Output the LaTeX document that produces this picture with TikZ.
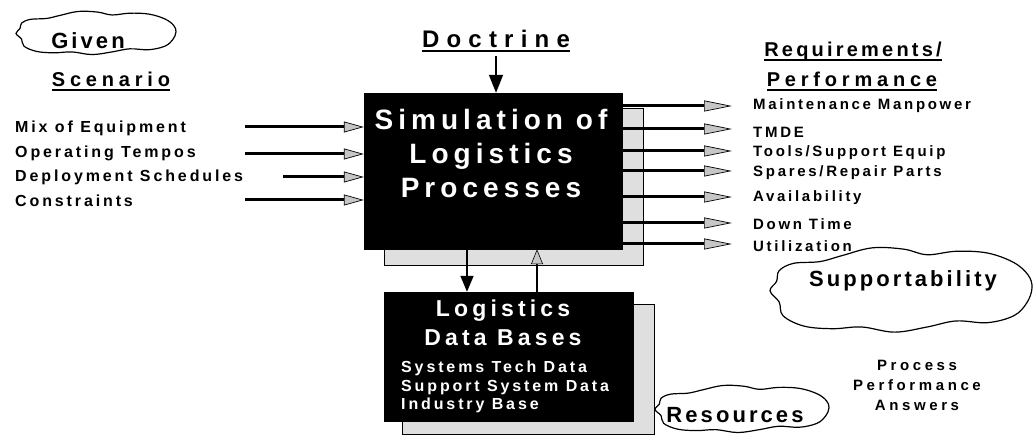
\documentclass[tikz,border=0pt]{standalone}
\usepackage{fontspec}
\newfontfamily\lsA[LetterSpace=18]{Liberation Sans}
\newfontfamily\lsB[LetterSpace=14]{Liberation Sans}
\newfontfamily\lsC[LetterSpace=24]{Liberation Sans}
\newfontfamily\lsD[LetterSpace=30]{Liberation Sans}
\newfontfamily\lsE[LetterSpace=16]{Liberation Sans}
\usetikzlibrary{arrows.meta}
\begin{document}
\begin{tikzpicture}[x=1pt,y=-1pt,
  lbl/.style={font=\lsA\bfseries\fontsize{16}{18}\selectfont, anchor=west, inner sep=0pt},
  outl/.style={font=\lsA\bfseries\fontsize{15}{17}\selectfont, anchor=west, inner sep=0pt},
  head/.style={font=\lsC\bfseries\fontsize{20}{22}\selectfont, anchor=base, inner sep=0pt},
  uline/.style={line width=1.4pt},
  inarrow/.style={line width=3pt, -{Triangle[length=20pt,width=11pt,fill=gray!45,line width=0.7pt]}},
  outarrow/.style={line width=3pt, -{Triangle[length=28pt,width=11pt,fill=gray!45,line width=0.7pt]}},
  blackbox/.style={fill=black, draw=black, inner sep=0pt},
  shadowbox/.style={fill=gray!25, draw=black, line width=0.9pt},
  cloudtxt/.style={font=\lsB\bfseries\fontsize{22}{24}\selectfont, inner sep=0pt},
  wtxt/.style={text=white, inner sep=0pt},
  mycloud/.pic={\draw[line width=1.2pt, fill=white] plot[smooth cycle, tension=0.6] coordinates{
     (-1,0.02) (-0.95,-0.2) (-0.93,-0.45) (-0.82,-0.62) (-0.62,-0.66) (-0.45,-0.8) (-0.22,-0.98)
     (0.02,-0.95) (0.2,-0.82) (0.42,-0.9) (0.66,-0.86) (0.86,-0.64) (0.97,-0.35) (1,-0.05)
     (0.96,0.3) (0.86,0.6) (0.66,0.76) (0.42,0.72) (0.2,0.86) (-0.05,0.98) (-0.3,0.86)
     (-0.52,0.9) (-0.74,0.84) (-0.9,0.6) (-0.93,0.28)};}
]
\useasboundingbox[fill=white] (0,0) rectangle (1034,435);

% ---------- Given / Scenario ----------
\pic[xscale=80, yscale=22] (givc) at (96,33) {mycloud};
\node[cloudtxt] (giv) at (88,41) {Given};
\node[head] (scen) at (111,87) {Scenario};
\draw[uline] ([yshift=-3pt]scen.base west) -- ([yshift=-3pt]scen.base east);

% ---------- Doctrine ----------
\node[head, font=\lsD\bfseries\fontsize{24}{26}\selectfont] (doc) at (496,48) {Doctrine};
\draw[uline] ([yshift=-3pt]doc.base west) -- ([yshift=-3pt]doc.base east);

% ---------- main box ----------
\node[shadowbox, minimum width=259pt, minimum height=157pt, inner sep=0pt] (simsh) at (513.5,186.5) {};
\node[blackbox, minimum width=258pt, minimum height=156pt] (sim) at (493,171) {};
\node[wtxt, font=\lsA\bfseries\fontsize{28}{34}\selectfont, align=center] (simt) at (491,153) {Simulation of\\Logistics\\Processes};

\coordinate (dd) at (496,56);
\draw[line width=1.5pt, -{Triangle[length=18pt,width=14pt]}] (dd) -- (dd |- sim.north);

% ---------- inputs ----------
\node[lbl] (in1) at (15,128) {Mix of Equipment};
\node[lbl] (in2) at (15,153) {Operating Tempos};
\node[lbl] (in3) at (15,177) {Deployment Schedules};
\node[lbl] (in4) at (15,201) {Constraints};
\coordinate (a1) at (245,127);
\coordinate (a2) at (245,154);
\coordinate (a3) at (283,177);
\coordinate (a4) at (245,200);
\foreach \c in {a1,a2,a3,a4} \draw[inarrow] (\c) -- (\c -| sim.west);

% ---------- outputs ----------
\node[head, font=\lsE\bfseries\fontsize{20}{22}\selectfont] (req) at (853,57) {Requirements/};
\draw[uline] ([yshift=-3pt]req.base west) -- ([yshift=-3pt]req.base east);
\node[head] (perf) at (852,87) {Performance};
\draw[uline] ([yshift=-3pt]perf.base west) -- ([yshift=-3pt]perf.base east);

\coordinate (o1) at (732,106);
\coordinate (o2) at (732,129);
\coordinate (o3) at (732,151);
\coordinate (o4) at (732,171);
\coordinate (o5) at (732,197);
\coordinate (o6) at (732,223);
\coordinate (o7) at (732,244);
\foreach \c in {o1,o2,o3,o4,o5,o6,o7} \draw[outarrow] (\c -| sim.east) -- (\c);

\node[outl] (r1) at (753,106) {Maintenance Manpower};
\node[outl] (r2) at (753,132) {TMDE};
\node[outl] (r3) at (753,153) {Tools/Support Equip};
\node[outl] (r4) at (753,173) {Spares/Repair Parts};
\node[outl] (r5) at (753,198) {Availability};
\node[outl] (r6) at (753,224) {Down Time};
\node[outl] (r7) at (753,246) {Utilization};

% ---------- Supportability ----------
\pic[xscale=131, yscale=43] (supc) at (901,290) {mycloud};
\node[cloudtxt] (sup) at (903,281) {Supportability};

% ---------- lower box ----------
\node[shadowbox, minimum width=252pt, minimum height=130pt] (ldbsh) at (528,369) {};
\node[blackbox, minimum width=249pt, minimum height=129pt] (ldb) at (508.5,356.5) {};
\node[wtxt, font=\lsA\bfseries\fontsize{23}{29}\selectfont, align=center] (ldbt) at (503,323) {Logistics\\Data Bases};
\node[wtxt, font=\lsA\bfseries\fontsize{16}{18.5}\selectfont, align=left, anchor=west] (ldbs) at (401,387) {Systems Tech Data\\Support System Data\\Industry Base};

\coordinate (dn) at (467,0);
\coordinate (up) at (537,0);
\draw[line width=1.5pt, -{Triangle[length=16pt,width=13pt]}] (dn |- sim.south) -- (dn |- ldb.north);
\draw[line width=1.2pt, -{Triangle[length=15pt,width=12pt,fill=gray!45,line width=0.6pt]}] (up |- ldb.north) -- (up |- sim.south);

% ---------- Resources ----------
\pic[xscale=87, yscale=24] (resc) at (742,409) {mycloud};
\node[cloudtxt] (res) at (735,415) {Resources};

% ---------- answers ----------
\node[font=\lsC\bfseries\fontsize{15}{20}\selectfont, align=center, inner sep=0pt] (ans) at (917,385) {Process\\Performance\\Answers};
\end{tikzpicture}
\end{document}
